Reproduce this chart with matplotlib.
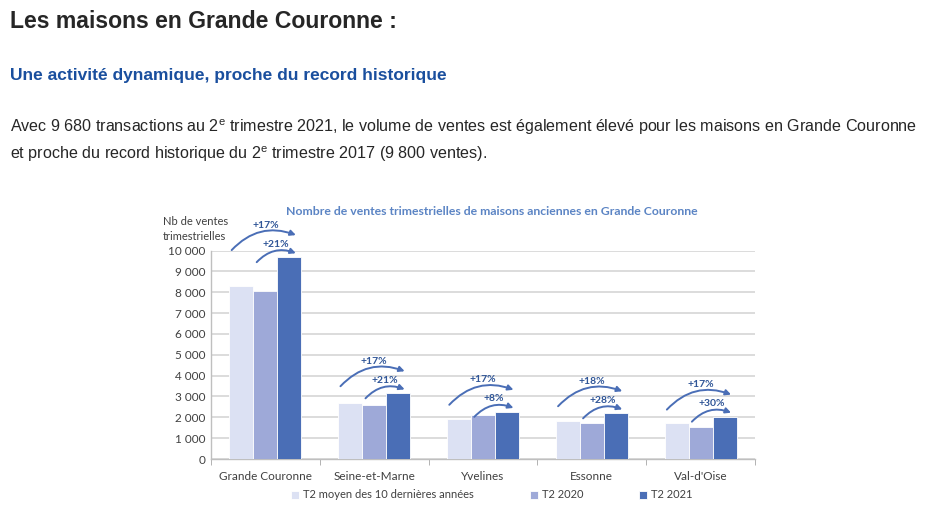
import matplotlib
matplotlib.use('Agg')
import matplotlib.pyplot as plt
import numpy as np
from matplotlib.ticker import FuncFormatter, FixedLocator

# Données
categories = ['Grande Couronne', 'Seine-et-Marne', 'Yvelines', 'Essonne', "Val-d'Oise"]
t2_moyen = [8300, 2700, 1930, 1840, 1730]
t2_2020 = [8050, 2590, 2090, 1710, 1550]
t2_2021 = [9680, 3150, 2260, 2190, 2030]
evol_moyen = ['+17%', '+17%', '+17%', '+18%', '+17%']
evol_2020 = ['+21%', '+21%', '+8%', '+28%', '+30%']
series_labels = ['T2 moyen des 10 dernières années', 'T2 2020', 'T2 2021']
y_ticks = [0, 1000, 2000, 3000, 4000, 5000, 6000, 7000, 8000, 9000, 10000]

W, H = 932, 532
page_font = ['Liberation Sans', 'DejaVu Sans']
chart_font = ['Lato', 'DejaVu Sans']
plt.rcParams['mathtext.fontset'] = 'custom'
plt.rcParams['mathtext.rm'] = 'Liberation Sans'

fig = plt.figure(figsize=(W / 100, H / 100), dpi=100)
fig.patch.set_facecolor('white')


def px(x, y):
    return x / W, 1 - y / H


# Texte de la page
fig.text(*px(10, 21), 'Les maisons en Grande Couronne :', family=page_font,
         weight='bold', fontsize=16.6, color='#262626', va='center')
fig.text(*px(10, 76), 'Une activité dynamique, proche du record historique', family=page_font,
         weight='bold', fontsize=12.5, color='#1a4f9e', va='center')
fig.text(*px(10, 127), 'Avec 9 680 transactions au 2$^{\\mathrm{e}}$ trimestre 2021, le volume de ventes est '
         'également élevé pour les maisons en Grande Couronne', family=page_font,
         fontsize=11.6, color='#262626', va='center')
fig.text(*px(10, 154), 'et proche du record historique du 2$^{\\mathrm{e}}$ trimestre 2017 (9 800 ventes).',
         family=page_font, fontsize=11.6, color='#262626', va='center')

# Graphique
ax = fig.add_axes([211 / W, 1 - 459 / H, (755 - 211) / W, (459 - 250.5) / H])
colors = ['#dce1f3', '#9ea9d8', '#4a6eb6']
x = np.arange(len(categories))
bw = 0.22
for i, (vals, col, lab) in enumerate(zip([t2_moyen, t2_2020, t2_2021], colors, series_labels)):
    ax.bar(x + (i - 1) * bw, vals, bw, color=col, edgecolor='white', linewidth=0.6,
           label=lab, zorder=3)

ax.set_xlim(-0.5, len(categories) - 0.5)
ax.set_ylim(0, 10000)
ax.yaxis.set_major_locator(FixedLocator(y_ticks))
ax.yaxis.set_major_formatter(FuncFormatter(lambda v, p: f'{int(v):,}'.replace(',', ' ')))
ax.grid(axis='y', color='#d9d9d9', linewidth=1.3, zorder=0)
ax.set_xticks(x)
ax.set_xticklabels(categories)
ax.set_xticks(np.arange(-0.5, len(categories)), minor=True)
ax.tick_params(axis='x', which='major', length=0, pad=9, labelsize=8.5, labelcolor='#404040')
ax.tick_params(axis='x', which='minor', length=4, color='#a6a6a6', direction='out')
ax.tick_params(axis='y', length=0, pad=4, labelsize=8.5, labelcolor='#404040')
for lbl in ax.get_xticklabels() + ax.get_yticklabels():
    lbl.set_family(chart_font)
for s in ['top', 'right']:
    ax.spines[s].set_visible(False)
for s in ['left', 'bottom']:
    ax.spines[s].set_color('#bfbfbf')
    ax.spines[s].set_linewidth(1)

# Flèches d'évolution
arrow_col = '#4a6eb6'
for i in range(len(categories)):
    top = t2_2021[i]
    ax.annotate('', xy=(x[i] + 0.28, top + 1060), xytext=(x[i] - 0.31, top + 340),
                annotation_clip=False,
                arrowprops=dict(arrowstyle='-|>', color=arrow_col, lw=1.4, mutation_scale=8,
                                connectionstyle='arc3,rad=-0.33', shrinkA=0, shrinkB=0), zorder=4)
    ax.annotate('', xy=(x[i] + 0.28, top + 190), xytext=(x[i] - 0.08, top - 240),
                annotation_clip=False,
                arrowprops=dict(arrowstyle='-|>', color=arrow_col, lw=1.4, mutation_scale=8,
                                connectionstyle='arc3,rad=-0.33', shrinkA=0, shrinkB=0), zorder=4)
    ax.text(x[i], top + 1540, evol_moyen[i], ha='center', va='center', fontsize=7.5,
            weight='bold', color='#2f5597', family=chart_font, zorder=5, clip_on=False)
    ax.text(x[i] + 0.10, top + 620, evol_2020[i], ha='center', va='center', fontsize=7.5,
            weight='bold', color='#2f5597', family=chart_font, zorder=5, clip_on=False)

fig.text(*px(492, 211), 'Nombre de ventes trimestrielles de maisons anciennes en Grande Couronne',
         family=chart_font, weight='bold', fontsize=8.8, color='#5b84c4', ha='center', va='center')
fig.text(*px(163, 229), 'Nb de ventes\ntrimestrielles', family=chart_font, fontsize=8,
         color='#404040', ha='left', va='center', linespacing=1.5)

leg = fig.legend(loc='center', bbox_to_anchor=px(492, 495), ncol=3, frameon=False,
                 handlelength=0.7, handleheight=0.7, columnspacing=5, handletextpad=0.4,
                 prop={'family': chart_font, 'size': 8})
for t in leg.get_texts():
    t.set_color('#404040')

fig.savefig('out.png', dpi=100)
